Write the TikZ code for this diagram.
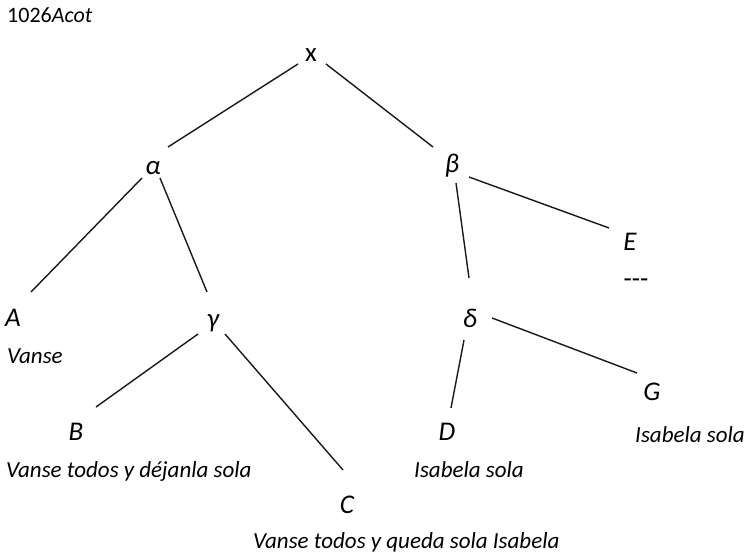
\documentclass[tikz,border=0pt]{standalone}
\usepackage{fontspec}
\setmainfont{Carlito}
\usetikzlibrary{calc}
\begin{document}
\begin{tikzpicture}[x=1pt,y=-1pt,
  nd/.style={inner sep=0pt, font=\fontsize{27}{30}\selectfont\itshape},
  lbl/.style={inner sep=0pt, anchor=base west, font=\fontsize{23}{27}\selectfont\itshape},
  edge/.style={line width=1.4pt, black!90}]
\useasboundingbox[fill=white] (0,0) rectangle (746,553);
% title
\node[lbl, font=\fontsize{22}{26}\selectfont] (title) at (7,23) {1026\textit{Acot}};
% tree nodes
\node[nd, font=\fontsize{27}{30}\selectfont\upshape] (x) at (311,55) {x};
\node[nd] (alpha) at (153,168) {α};
\node[nd] (beta) at (452,166) {β};
\node[nd] (E) at (630,242) {E};
\node[nd, font=\fontsize{27}{30}\selectfont] (dots) at (636,283) {-{}-{}-};
\node[nd] (A) at (13,318) {A};
\node[nd] (gamma) at (213,323) {γ};
\node[nd] (delta) at (470,318) {δ};
\node[nd] (G) at (652,392) {G};
\node[nd] (B) at (76,432) {B};
\node[nd] (D) at (447,432) {D};
\node[nd] (C) at (347,505) {C};
% labels
\node[lbl] (lA) at (7,363) {Vanse};
\node[lbl] (lB) at (6,477) {Vanse todos y déjanla sola};
\node[lbl] (lD) at (414,477) {Isabela sola};
\node[lbl] (lG) at (635,442) {Isabela sola};
\node[lbl] (lC) at (253,548) {Vanse todos y queda sola Isabela};
% edges
\draw[edge] ($(x)+(-13,9)$) -- ($(alpha)+(15,-21)$);
\draw[edge] ($(x)+(15,9)$) -- ($(beta)+(-19,-19)$);
\draw[edge] ($(alpha)+(-11,10)$) -- ($(A)+(18,-26)$);
\draw[edge] ($(alpha)+(7,10)$) -- ($(gamma)+(-6,-31)$);
\draw[edge] ($(beta)+(4,17)$) -- ($(delta)+(-1,-40)$);
\draw[edge] ($(beta)+(17,11)$) -- ($(E)+(-21,-14)$);
\draw[edge] ($(gamma)+(-15,11)$) -- ($(B)+(20,-25)$);
\draw[edge] ($(gamma)+(12,11)$) -- ($(C)+(-4,-35)$);
\draw[edge] ($(delta)+(-6,22)$) -- ($(D)+(4,-24)$);
\draw[edge] ($(delta)+(22,0)$) -- ($(G)+(-15,-19)$);
\end{tikzpicture}
\end{document}
